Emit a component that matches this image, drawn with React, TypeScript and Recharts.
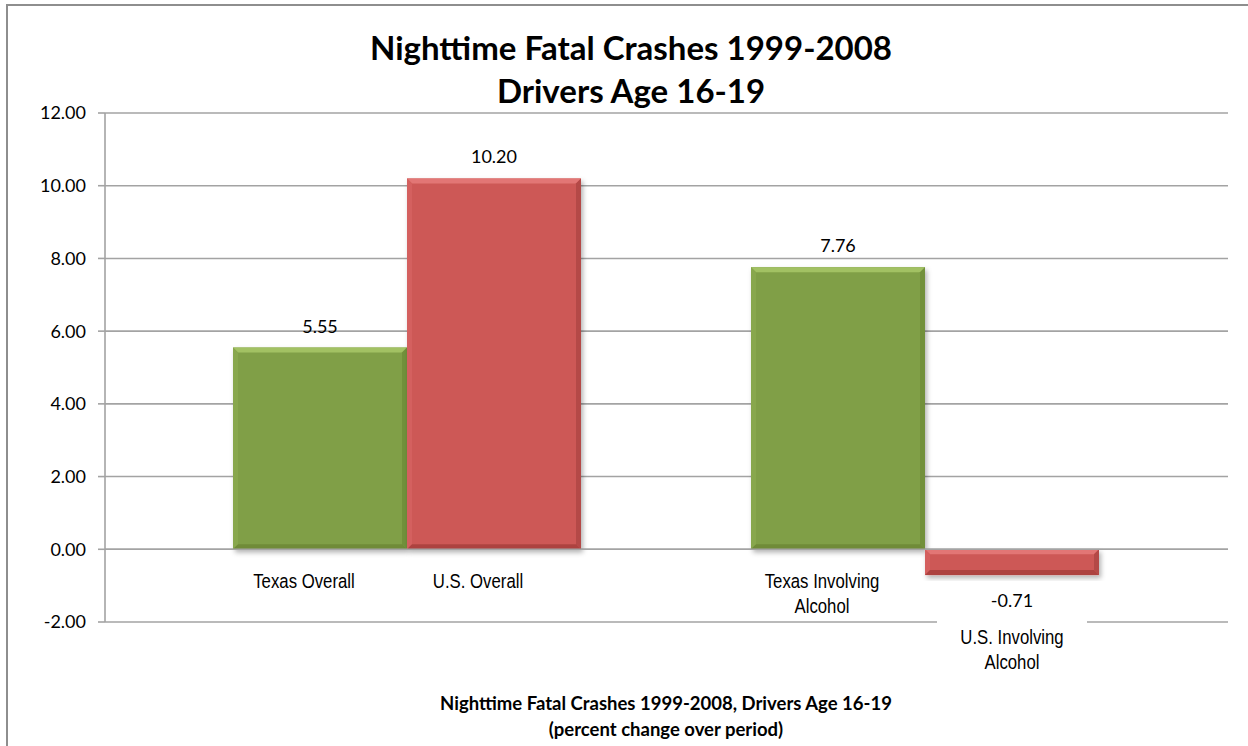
import React from 'react';
import { BarChart, Bar, XAxis, YAxis, CartesianGrid, ReferenceLine, LabelList } from 'recharts';

const categories = ['Overall', 'Involving Alcohol'];
const texasValues = [5.55, 7.76];
const usValues = [10.2, -0.71];
const texasLabels = ['Texas Overall', 'Texas Involving\nAlcohol'];
const usLabels = ['U.S. Overall', 'U.S. Involving\nAlcohol'];
const yTicks = [-2, 0, 2, 4, 6, 8, 10, 12];
const titleLines = ['Nighttime Fatal Crashes 1999-2008', 'Drivers Age 16-19'];
const axisTitleLines = ['Nighttime Fatal Crashes 1999-2008, Drivers Age 16-19', '(percent change over period)'];

const data = categories.map((c, i) => ({
  category: c,
  texas: texasValues[i],
  us: usValues[i],
  texasLabel: texasLabels[i],
  usLabel: usLabels[i],
}));

const GREEN = { base: '#809f46', light: '#a2c164', side: '#88a74d', dark: '#72903b', bottom: '#6f8b38' };
const RED = { base: '#cd5856', light: '#e27674', side: '#d4605e', dark: '#b44846', bottom: '#ad4341' };

const NUM_FONT = 'Lato, "Open Sans", sans-serif';
const CAT_FONT = '"Liberation Sans", Arial, sans-serif';
const GRID = '#a3a3a3';

const makeBevelBar = (c: typeof GREEN) => (props: any) => {
  const { x, y, width, height } = props;
  if (x == null || y == null) return <g />;
  const top = Math.min(y, y + height);
  const h = Math.abs(height);
  const w = width;
  const b = Math.min(5, h / 2, w / 2);
  const L = x, R = x + w, T = top, B = top + h;
  return (
    <g filter="url(#barShadow)">
      <rect x={L} y={T} width={w} height={h} fill={c.base} />
      <polygon points={`${L},${T} ${R},${T} ${R - b},${T + b} ${L + b},${T + b}`} fill={c.light} />
      <polygon points={`${L},${T} ${L + b},${T + b} ${L + b},${B - b} ${L},${B}`} fill={c.side} />
      <polygon points={`${R},${T} ${R},${B} ${R - b},${B - b} ${R - b},${T + b}`} fill={c.dark} />
      <polygon points={`${L},${B} ${R},${B} ${R - b},${B - b} ${L + b},${B - b}`} fill={c.bottom} />
    </g>
  );
};

const renderValueLabel = (props: any) => {
  const vb = props.viewBox || props;
  const { x, y, width, height } = vb;
  const v = Number(props.value);
  const top = Math.min(y, y + height);
  const bottom = Math.max(y, y + height);
  const cx = x + width / 2;
  const ty = v >= 0 ? top - 22 : bottom + 25;
  return (
    <text x={cx} y={ty} textAnchor="middle" dominantBaseline="central" fontFamily={NUM_FONT} fontSize={18} fill="#000">
      {v.toFixed(2)}
    </text>
  );
};

const NARROW = 0.86;

const renderCategoryLabel = (props: any) => {
  const vb = props.viewBox || props;
  const { x, y, width, height } = vb;
  const negative = height < 0;
  const bottom = Math.max(y, y + height);
  const cx = x + width / 2;
  const lines = String(props.value).split('\n');
  const lh = 25;
  const tx = negative ? cx : cx - 16;
  const startY = negative ? bottom + 62 : bottom + 32;
  const txt = (
    <text
      textAnchor="middle"
      fontFamily={CAT_FONT}
      fontSize={19.5}
      fill="#000"
      transform={`translate(${tx},0) scale(${NARROW},1) translate(${-tx},0)`}
    >
      {lines.map((ln, i) => (
        <tspan key={i} x={tx} y={startY + i * lh} dominantBaseline="central">{ln}</tspan>
      ))}
    </text>
  );
  if (!negative) return txt;
  return (
    <g>
      <rect x={cx - 75} y={bottom + 42} width={150} height={66} fill="#fff" />
      {txt}
    </g>
  );
};

const textBlock = (lines: string[], cx: number, ys: number[], size: number) =>
  lines.map((ln, i) => (
    <div
      key={ln}
      style={{
        position: 'absolute',
        left: cx,
        top: ys[i],
        transform: 'translate(-50%, -50%)',
        whiteSpace: 'nowrap',
        fontFamily: NUM_FONT,
        fontWeight: 700,
        fontSize: size,
        color: '#000',
        lineHeight: 1,
      }}
    >
      {ln}
    </div>
  ));

export default function App() {
  return (
    <div style={{ position: 'absolute', left: 0, top: 0, width: 1248, height: 746, overflow: 'hidden', background: '#fff' }}>
      <div style={{ position: 'absolute', left: 6, top: 4, width: 1270, height: 780, border: '2px solid #8e8e8e', boxSizing: 'border-box' }} />
      <div style={{ position: 'absolute', left: 0, top: 0 }}>
        <BarChart
          width={1248}
          height={746}
          data={data}
          margin={{ top: 113, right: 20, bottom: 124, left: 5 }}
          barCategoryGap={85}
          barGap={0}
        >
          <defs>
            <filter id="barShadow" x="-10%" y="-10%" width="130%" height="130%">
              <feDropShadow dx="2" dy="3" stdDeviation="2.5" floodColor="#000" floodOpacity="0.3" />
            </filter>
          </defs>
          <CartesianGrid vertical={false} stroke={GRID} strokeWidth={1.6} />
          <XAxis dataKey="category" hide padding={{ left: 43, right: 44 }} />
          <YAxis
            width={100}
            domain={[-2, 12]}
            ticks={yTicks}
            interval={0}
            tickFormatter={(v: number) => v.toFixed(2)}
            tick={{ fill: '#000', fontSize: 18, fontFamily: NUM_FONT }}
            tickSize={7}
            tickMargin={12}
            tickLine={{ stroke: GRID, strokeWidth: 1.6 }}
            axisLine={{ stroke: GRID, strokeWidth: 1.6 }}
          />
          <ReferenceLine y={0} stroke={GRID} strokeWidth={1.6} />
          <Bar dataKey="texas" isAnimationActive={false} shape={makeBevelBar(GREEN)}>
            <LabelList dataKey="texas" content={renderValueLabel} />
            <LabelList dataKey="texasLabel" content={renderCategoryLabel} />
          </Bar>
          <Bar dataKey="us" isAnimationActive={false} shape={makeBevelBar(RED)}>
            <LabelList dataKey="us" content={renderValueLabel} />
            <LabelList dataKey="usLabel" content={renderCategoryLabel} />
          </Bar>
        </BarChart>
      </div>
      {textBlock(titleLines, 631, [47, 90], 33)}
      {textBlock(axisTitleLines, 666, [703, 729], 18.5)}
    </div>
  );
}
